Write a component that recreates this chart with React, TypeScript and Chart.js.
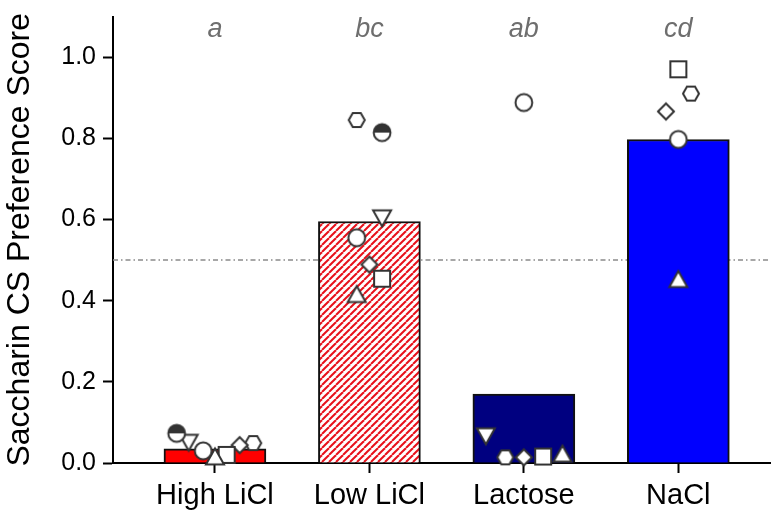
import React, { useEffect, useRef } from "react";
import { Chart, registerables } from "chart.js";

Chart.register(...registerables);

// ---------- data ----------
const categories = ["High LiCl", "Low LiCl", "Lactose", "NaCl"];
const barMeans = [0.035, 0.595, 0.17, 0.797];
const sigLetters = ["a", "bc", "ab", "cd"];
const yTickValues = [0, 0.2, 0.4, 0.6, 0.8, 1.0];
const chanceLevel = 0.5;
const yTitle = "Saccharin CS Preference Score";

// individual subjects (one marker shape per subject), null = not shown
const subjectShapes = ["halfCircle", "invTriangle", "circle", "triangle", "square", "diamond", "hexagon"];
const halfCircleScores = [0.073, 0.814, null, null];
const invTriangleScores = [0.051, 0.604, 0.067, null];
const circleScores = [0.03, 0.555, 0.888, 0.797];
const triangleScores = [0.015, 0.415, 0.022, 0.452];
const squareScores = [0.02, 0.454, 0.016, 0.97];
const diamondScores = [0.044, 0.489, 0.014, 0.866];
const hexagonScores = [0.049, 0.845, 0.014, 0.91];

// horizontal jitter of each subject within a category (category units)
const halfCircleJitter = [-0.248, 0.082, 0, 0];
const invTriangleJitter = [-0.17, 0.082, -0.246, 0];
const circleJitter = [-0.076, -0.082, 0, 0];
const triangleJitter = [0, -0.082, 0.25, 0];
const squareJitter = [0.076, 0.082, 0.125, 0];
const diamondJitter = [0.16, 0, 0, -0.08];
const hexagonJitter = [0.248, -0.082, -0.12, 0.082];

const subjectScores = [halfCircleScores, invTriangleScores, circleScores, triangleScores, squareScores, diamondScores, hexagonScores];
const subjectJitter = [halfCircleJitter, invTriangleJitter, circleJitter, triangleJitter, squareJitter, diamondJitter, hexagonJitter];

// ---------- styling helpers ----------
const FONT = '"Liberation Sans", Arial, Helvetica, sans-serif';
const MARK_STROKE = "#333333";

function makeMarker(shape: string): HTMLCanvasElement {
  const size = 26;
  const c = document.createElement("canvas");
  c.width = size;
  c.height = size;
  const ctx = c.getContext("2d")!;
  const m = size / 2;
  ctx.lineWidth = 2;
  ctx.strokeStyle = MARK_STROKE;
  ctx.fillStyle = "#ffffff";
  ctx.lineJoin = "miter";
  ctx.beginPath();
  if (shape === "circle" || shape === "halfCircle") {
    ctx.arc(m, m, 8.4, 0, Math.PI * 2);
    ctx.fill();
    if (shape === "halfCircle") {
      ctx.beginPath();
      ctx.arc(m, m, 8.4, Math.PI, Math.PI * 2);
      ctx.closePath();
      ctx.fillStyle = MARK_STROKE;
      ctx.fill();
      ctx.beginPath();
      ctx.arc(m, m, 8.4, 0, Math.PI * 2);
    }
    ctx.stroke();
    return c;
  }
  if (shape === "square") {
    ctx.rect(m - 8, m - 8, 16, 16);
  } else if (shape === "triangle") {
    ctx.moveTo(m, m - 8.5);
    ctx.lineTo(m + 9, m + 7.5);
    ctx.lineTo(m - 9, m + 7.5);
    ctx.closePath();
  } else if (shape === "invTriangle") {
    ctx.moveTo(m, m + 8.5);
    ctx.lineTo(m + 9, m - 7.5);
    ctx.lineTo(m - 9, m - 7.5);
    ctx.closePath();
  } else if (shape === "diamond") {
    ctx.moveTo(m, m - 8);
    ctx.lineTo(m + 8, m);
    ctx.lineTo(m, m + 8);
    ctx.lineTo(m - 8, m);
    ctx.closePath();
  } else if (shape === "hexagon") {
    for (let k = 0; k < 6; k++) {
      const a = (Math.PI / 3) * k;
      const px = m + 8 * Math.cos(a);
      const py = m + 8 * Math.sin(a);
      if (k === 0) ctx.moveTo(px, py);
      else ctx.lineTo(px, py);
    }
    ctx.closePath();
  }
  ctx.fill();
  ctx.stroke();
  return c;
}

function makeHatch(): CanvasPattern | string {
  const s = 7;
  const c = document.createElement("canvas");
  c.width = s;
  c.height = s;
  const ctx = c.getContext("2d")!;
  ctx.fillStyle = "#ffffff";
  ctx.fillRect(0, 0, s, s);
  ctx.strokeStyle = "#e8101a";
  ctx.lineWidth = 2;
  for (const o of [-s, 0, s]) {
    ctx.beginPath();
    ctx.moveTo(o, s);
    ctx.lineTo(o + s, 0);
    ctx.stroke();
  }
  const p = ctx.createPattern(c, "repeat");
  return p || "#ff0000";
}

const sigLetterPlugin = {
  id: "sigLetters",
  afterDatasetsDraw(chart: any) {
    const { ctx, scales } = chart;
    const x = scales.x;
    const y = scales.y;
    ctx.save();
    ctx.font = `italic 27px ${FONT}`;
    ctx.fillStyle = "#6e6e6e";
    ctx.textAlign = "center";
    ctx.textBaseline = "alphabetic";
    sigLetters.forEach((t, i) => {
      ctx.fillText(t, x.getPixelForValue(i), y.getPixelForValue(1.05));
    });
    ctx.restore();
  },
};

export default function App() {
  const canvasRef = useRef<HTMLCanvasElement | null>(null);

  useEffect(() => {
    const canvas = canvasRef.current;
    if (!canvas) return;

    const xMin = -0.66;
    const xMax = 3.6;

    const barColors = ["#ff0000", makeHatch(), "#000080", "#0000ff"];

    const subjectDatasets = subjectShapes.map((shape, si) => {
      const marker = makeMarker(shape);
      const pts: { x: number; y: number }[] = [];
      subjectScores[si].forEach((v, ci) => {
        if (v !== null && v !== undefined) pts.push({ x: ci + subjectJitter[si][ci], y: v as number });
      });
      return {
        type: "scatter" as const,
        label: shape,
        data: pts,
        pointStyle: marker,
        pointRadius: 10,
        pointHoverRadius: 10,
        order: 1,
        clip: false as any,
      };
    });

    const chart = new Chart(canvas, {
      type: "bar",
      data: {
        datasets: [
          {
            type: "line" as const,
            label: "chance",
            data: [
              { x: xMin, y: chanceLevel },
              { x: xMax, y: chanceLevel },
            ],
            borderColor: "#8a8a8a",
            borderWidth: 1.5,
            borderDash: [5, 3, 1.5, 3],
            pointRadius: 0,
            order: 3,
          } as any,
          {
            type: "bar" as const,
            label: "mean",
            data: barMeans.map((v, i) => ({ x: i, y: v })),
            backgroundColor: barColors as any,
            borderColor: "#111111",
            borderWidth: 2,
            barThickness: 102,
            order: 2,
          } as any,
          ...(subjectDatasets as any[]),
        ],
      },
      options: {
        responsive: false,
        animation: false,
        events: [],
        layout: { autoPadding: false, padding: { top: 16.5, right: 0, left: 0, bottom: 0 } },
        plugins: {
          legend: { display: false },
          tooltip: { enabled: false },
        },
        scales: {
          x: {
            type: "linear",
            min: xMin,
            max: xMax,
            offset: false,
            afterBuildTicks: (scale: any) => {
              scale.ticks = categories.map((_, i) => ({ value: i }));
            },
            afterFit: (scale: any) => {
              scale.height = 49;
              scale.paddingLeft = 0;
              scale.paddingRight = 0;
            },
            ticks: {
              callback: (v: any) => categories[Math.round(Number(v))] ?? "",
              font: { family: FONT, size: 29 },
              color: "#000000",
              padding: 6,
              maxRotation: 0,
              autoSkip: false,
            },
            grid: {
              offset: false,
              drawOnChartArea: false,
              drawTicks: true,
              tickLength: 10,
              tickColor: "#000000",
              tickWidth: 2,
            },
            border: { display: true, color: "#000000", width: 2 },
          },
          y: {
            type: "linear",
            min: 0,
            max: 1.1,
            afterBuildTicks: (scale: any) => {
              scale.ticks = yTickValues.map((v) => ({ value: v }));
            },
            afterFit: (scale: any) => {
              scale.width = 113;
              scale.paddingTop = 0;
              scale.paddingBottom = 0;
            },
            ticks: {
              callback: (v: any) => Number(v).toFixed(1),
              font: { family: FONT, size: 25 },
              color: "#000000",
              padding: 7,
            },
            grid: {
              drawOnChartArea: false,
              drawTicks: true,
              tickLength: 10,
              tickColor: "#000000",
              tickWidth: 2,
            },
            border: { display: true, color: "#000000", width: 2 },
            title: {
              display: true,
              text: yTitle,
              font: { family: FONT, size: 32 },
              color: "#000000",
              padding: { top: 1, bottom: 0 },
            },
          },
        },
      } as any,
      plugins: [sigLetterPlugin],
    });

    return () => {
      chart.destroy();
    };
  }, []);

  return (
    <div style={{ position: "fixed", left: 0, top: 0, width: 771, height: 512, background: "#ffffff" }}>
      <canvas ref={canvasRef} width={771} height={512} style={{ display: "block", width: 771, height: 512 }} />
    </div>
  );
}
